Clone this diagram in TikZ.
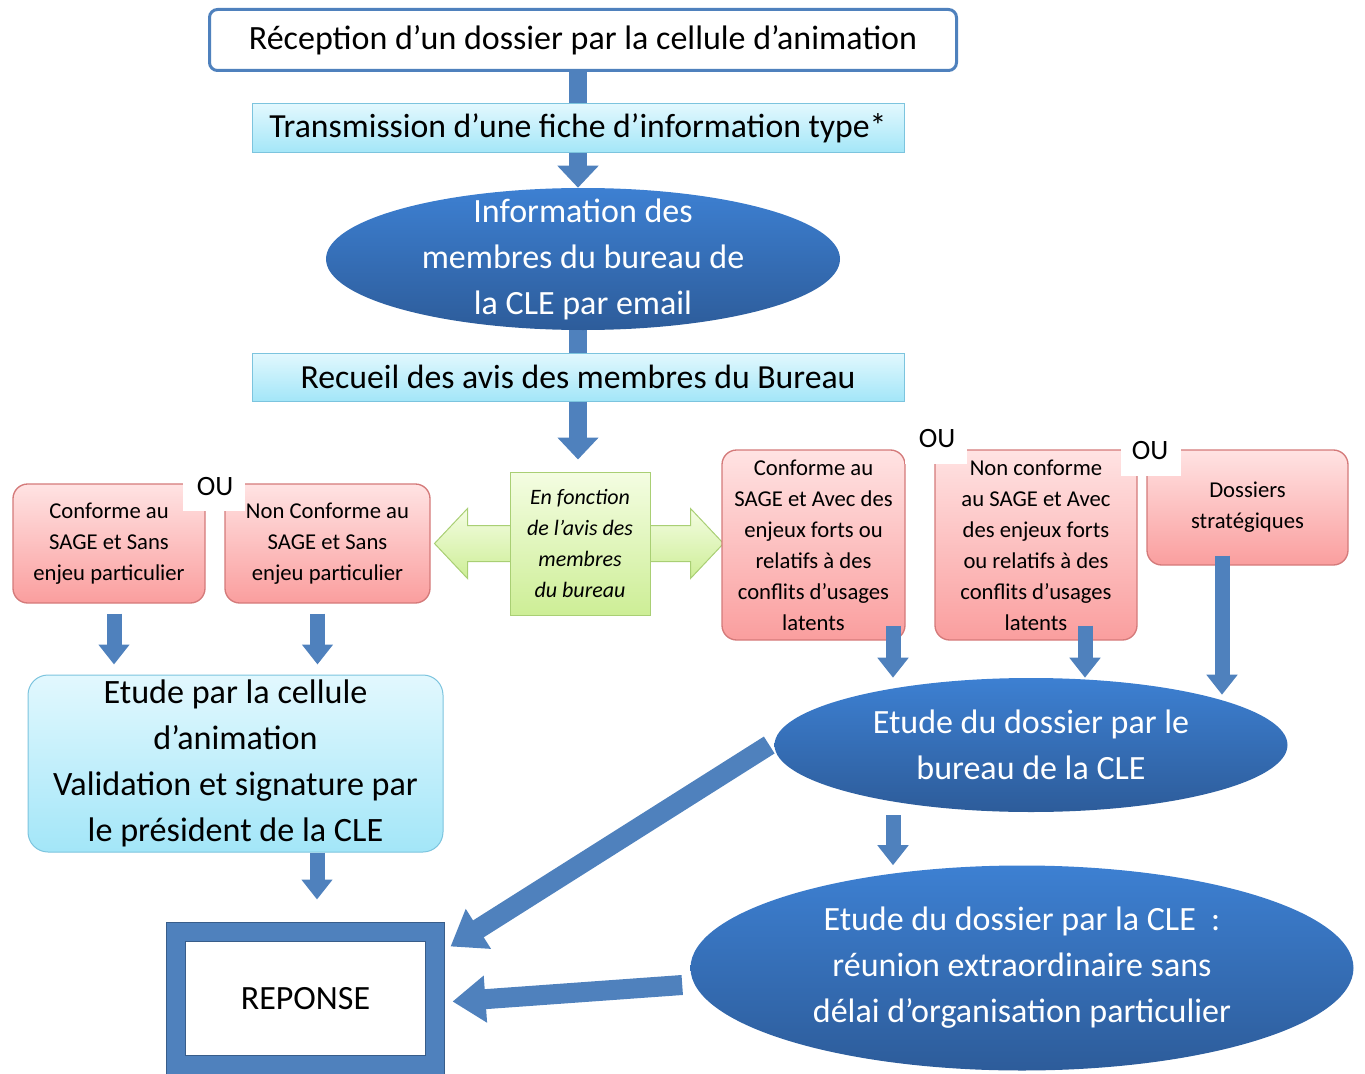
\documentclass[tikz,border=0pt]{standalone}
\usepackage{fontspec}
\setmainfont{Carlito}
\usetikzlibrary{shapes.geometric,arrows.meta,calc}
\definecolor{bblue}{HTML}{4F81BD}
\definecolor{dblue}{HTML}{385D8A}
\definecolor{ptop}{HTML}{FFE3E3}
\definecolor{pbot}{HTML}{FA9E9E}
\definecolor{pdraw}{HTML}{D47A7A}
\definecolor{ctop}{HTML}{E2F8FE}
\definecolor{cbot}{HTML}{A3E6F8}
\definecolor{cdraw}{HTML}{7CC4DE}
\definecolor{gtop}{HTML}{F4FDE2}
\definecolor{gbot}{HTML}{CDEE96}
\definecolor{gdraw}{HTML}{A9CF74}
\definecolor{etop}{HTML}{3D80D2}
\definecolor{ebot}{HTML}{2D5C9A}
\pgfdeclarelayer{bg}
\pgfsetlayers{bg,main}
\begin{document}
\begin{tikzpicture}[x=0.75pt,y=-0.75pt,
  topbox/.style={draw=bblue, line width=2.25pt, rounded corners=6pt, fill=white,
    minimum width=560.25pt, minimum height=45.75pt, inner sep=0pt,
    font=\fontsize{25.5}{30}\selectfont},
  cyanbar/.style={draw=cdraw, top color=ctop, bottom color=cbot, line width=0.75pt,
    inner sep=0pt, font=\fontsize{25.3}{30}\selectfont},
  cyanbox/.style={draw=cdraw, top color=ctop, bottom color=cbot, line width=0.75pt,
    rounded corners=15pt, inner sep=0pt, align=center,
    font=\fontsize{25.6}{34.5}\selectfont},
  pinkbox/.style={draw=pdraw, top color=ptop, bottom color=pbot, line width=1pt,
    rounded corners=11pt, inner sep=0pt, align=center,
    font=\fontsize{17}{23.25}\selectfont},
  greenbox/.style={draw=gdraw, top color=gtop, bottom color=gbot, line width=0.75pt,
    inner sep=0pt, align=center, font=\fontsize{16.5}{23.25}\selectfont\itshape},
  garrow/.style={draw=gdraw, top color=gtop, bottom color=gbot, line width=0.75pt},
  ellip/.style={ellipse, top color=etop, bottom color=ebot, draw=none, inner sep=0pt},
  elltext/.style={text=white, align=center, font=\fontsize{25.5}{34.5}\selectfont},
  repbox/.style={draw=dblue, double=bblue, double distance=13.5pt, line width=0.75pt,
    fill=white, inner sep=0pt, minimum width=194.25pt, minimum height=99.75pt,
    font=\fontsize{25.5}{30}\selectfont},
  oupatch/.style={fill=white, draw=none, inner sep=0pt},
  outext/.style={inner sep=0pt, font=\fontsize{21}{24}\selectfont},
  stem/.style={draw=bblue, line width=13.5pt},
  sarrow/.style={draw=bblue, line width=11.25pt, -{Triangle[width=22.5pt, length=15pt]}},
  marrow/.style={draw=bblue, line width=13.5pt, -{Triangle[width=30pt, length=16.5pt]}},
  barrow/.style={draw=bblue, line width=15pt, -{Triangle[width=33.75pt, length=24.75pt]}}
]
\useasboundingbox (0,0) rectangle (1365,1074);

% top chain
\node[topbox] (recep) at (583,40) {Réception d’un dossier par la cellule d’animation};
\node[cyanbar, minimum width=489pt, minimum height=36.75pt] (trans) at (578,128.5) {Transmission d’une fiche d’information type*};
\node[ellip, minimum width=385.5pt, minimum height=106.5pt] (info) at (583,259) {};
\node[elltext] (infot) at (info.center) {Information des\\membres du bureau de\\la CLE par email};
\node[cyanbar, minimum width=489pt, minimum height=36pt] (recueil) at (578,377) {Recueil des avis des membres du Bureau};

% middle
\node[greenbox, minimum width=105pt, minimum height=107.25pt] (fonction) at (580,543.5) {En fonction\\de l’avis des\\membres\\du bureau};

\node[pinkbox, minimum width=144pt, minimum height=89.25pt] (cA) at (109,543.5) {Conforme au\\SAGE et Sans\\enjeu particulier};
\node[pinkbox, minimum width=153.75pt, minimum height=89.25pt] (cB) at (327.5,543.5) {Non Conforme au\\SAGE et Sans\\enjeu particulier};
\node[pinkbox, minimum width=137.25pt, minimum height=142.5pt] (cC) at (813.5,545) {Conforme au\\SAGE et Avec des\\enjeux forts ou\\relatifs à des\\conflits d’usages\\latents};
\node[pinkbox, minimum width=151.5pt, minimum height=142.5pt] (cD) at (1036,545) {Non conforme\\au SAGE et Avec\\des enjeux forts\\ou relatifs à des\\conflits d’usages\\latents};
\node[pinkbox, minimum width=150.75pt, minimum height=86.25pt] (cE) at (1247.5,507.5) {Dossiers\\stratégiques};

\node[oupatch, minimum width=46.5pt, minimum height=24pt] (ou1p) at (214,495) {};
\node[outext] (ou1) at (215,487) {OU};
\node[oupatch, minimum width=46.5pt, minimum height=27pt] (ou2p) at (936,446) {};
\node[outext] (ou2) at (937,439) {OU};
\node[oupatch, minimum width=45pt, minimum height=27pt] (ou3p) at (1151,458) {};
\node[outext] (ou3) at (1150,451) {OU};

% lower
\node[cyanbox, minimum width=311.25pt, minimum height=132.75pt] (etude) at (235.5,763.5) {Etude par la cellule\\d’animation\\Validation et signature par\\le président de la CLE};
\node[repbox] (rep) at (305.5,998.5) {REPONSE};

\node[ellip, minimum width=384.75pt, minimum height=100.5pt] (bur) at (1031,745) {};
\node[elltext] (burt) at (bur.center) {Etude du dossier par le\\bureau de la CLE};
\node[ellip, minimum width=497.25pt, minimum height=153.75pt] (cle) at (1022,968) {};
\node[elltext] (clet) at (cle.center) {Etude du dossier par la CLE\ \ :\\réunion extraordinaire sans\\délai d’organisation particulier};

% background connectors
\begin{pgfonlayer}{bg}
  \draw[stem] (recep.south -| trans.north) -- (trans.north);
  \draw[stem] (info.south -| recueil.north) -- (recueil.north);
  \draw[garrow] ($(fonction.west)+(2,-18)$) -- ($(fonction.west)+(-42,-18)$) -- ($(fonction.west)+(-42,-35)$)
     -- ($(fonction.west)+(-75,0)$) -- ($(fonction.west)+(-42,35)$) -- ($(fonction.west)+(-42,18)$)
     -- ($(fonction.west)+(2,18)$) -- cycle;
  \draw[garrow] ($(fonction.east)+(-2,-18)$) -- ($(fonction.east)+(40,-18)$) -- ($(fonction.east)+(40,-35)$)
     -- ($(fonction.east)+(73,0)$) -- ($(fonction.east)+(40,35)$) -- ($(fonction.east)+(40,18)$)
     -- ($(fonction.east)+(-2,18)$) -- cycle;
\end{pgfonlayer}

% arrows
\draw[marrow] (trans.south) -- (info.north -| trans.south);
\draw[marrow, shorten >=9pt] (recueil.south) -- (recueil.south |- fonction.north);

\coordinate (aS) at ($(cA.south)+(5,10)$);
\draw[sarrow, shorten >=7.5pt] (aS) -- (aS |- etude.north);
\coordinate (bS) at ($(cB.south)+(-10,10)$);
\draw[sarrow, shorten >=7.5pt] (bS) -- (bS |- etude.north);

\coordinate (eS) at ($(etude.south)+(81.5,0)$);
\draw[sarrow, shorten >=24pt] (eS) -- (eS |- rep.north);

\coordinate (cS) at ($(cC.south)+(79.5,-15)$);
\draw[sarrow] (cS) -- (cS |- bur.north);
\coordinate (dS) at ($(cD.south)+(49,-15)$);
\draw[sarrow] (dS) -- (dS |- bur.north);
\coordinate (fS) at ($(cE.south)+(-25.5,-10)$);
\draw[sarrow] (fS) -- ($(fS |- bur.north)+(0,17)$);

\coordinate (gS) at ($(bur.south)+(-138,3)$);
\draw[sarrow] (gS) -- (gS |- cle.north);

\draw[barrow] ($(bur.west)+(-5,0)$) -- ($(rep.north east)+(15,15)$);
\draw[barrow] ($(cle.west)+(-8,17)$) -- ($(rep.east)+(17,3)$);
\end{tikzpicture}
\end{document}
